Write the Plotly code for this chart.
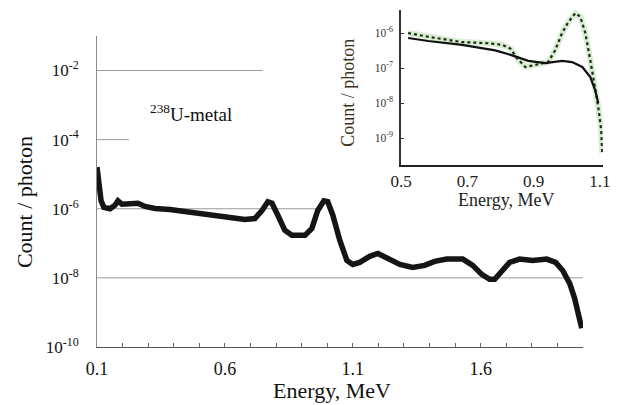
import plotly.graph_objects as go

# ---------------- data: main spectrum (238U-metal) ----------------
energy_main = [0.100, 0.108, 0.116, 0.127, 0.151, 0.170, 0.182, 0.198, 0.229, 0.260,
               0.288, 0.327, 0.385, 0.444, 0.502, 0.561, 0.620, 0.678, 0.717, 0.745,
               0.768, 0.784, 0.807, 0.834, 0.862, 0.913, 0.940, 0.963, 0.987, 1.002,
               1.022, 1.049, 1.077, 1.100, 1.127, 1.166, 1.198, 1.237, 1.284, 1.334,
               1.381, 1.420, 1.467, 1.530, 1.569, 1.604, 1.635, 1.655, 1.682, 1.713,
               1.752, 1.803, 1.858, 1.893, 1.920, 1.948, 1.967, 1.983, 1.995]
count_main = [1.6e-5, 4.8e-6, 1.7e-6, 1.1e-6, 1.0e-6, 1.26e-6, 1.7e-6, 1.35e-6, 1.35e-6, 1.45e-6,
              1.17e-6, 1.02e-6, 9.5e-7, 8.3e-7, 7.4e-7, 6.5e-7, 5.2e-7, 4.9e-7, 5.2e-7, 8.9e-7,
              1.6e-6, 1.45e-6, 6.5e-7, 2.4e-7, 1.7e-7, 1.7e-7, 2.7e-7, 8.9e-7, 1.7e-6, 1.6e-6,
              6.5e-7, 1.23e-7, 3.2e-8, 2.45e-8, 2.8e-8, 4.2e-8, 5.1e-8, 3.7e-8, 2.45e-8, 2.0e-8,
              2.3e-8, 3.0e-8, 3.5e-8, 3.5e-8, 2.3e-8, 1.26e-8, 9.1e-9, 9.1e-9, 1.45e-8, 2.8e-8,
              3.5e-8, 3.2e-8, 3.5e-8, 2.8e-8, 1.66e-8, 6.9e-9, 2.6e-9, 8.3e-10, 3.5e-10]

# ---------------- data: inset ----------------
energy_meas = [0.521, 0.582, 0.684, 0.763, 0.805, 0.830, 0.850, 0.875, 0.905, 0.944, 0.965,
               0.986, 1.004, 1.026, 1.041, 1.056, 1.071, 1.086, 1.095, 1.104, 1.107]
count_meas = [1.0e-6, 7.8e-7, 5.5e-7, 5.1e-7, 4.6e-7, 3.6e-7, 1.9e-7, 1.07e-7, 1.23e-7, 1.48e-7, 3.2e-7,
              1.0e-6, 2.0e-6, 3.7e-6, 2.9e-6, 1.0e-6, 1.7e-7, 2.9e-8, 7.8e-9, 1.7e-9, 3.7e-10]

energy_sim = [0.521, 0.582, 0.684, 0.784, 0.835, 0.884, 0.935, 0.986, 1.016, 1.047,
              1.071, 1.086, 1.095]
count_sim = [7.2e-7, 5.9e-7, 4.6e-7, 3.2e-7, 2.3e-7, 1.6e-7, 1.38e-7, 1.6e-7, 1.48e-7, 1.07e-7,
             5.5e-8, 2.3e-8, 1.0e-8]

# axis ticks / labels
main_x_ticks = [0.1, 0.6, 1.1, 1.6]
main_y_ticks = [1e-2, 1e-4, 1e-6, 1e-8, 1e-10]
main_y_text = ["10<sup>-2</sup>", "10<sup>-4</sup>", "10<sup>-6</sup>", "10<sup>-8</sup>", "10<sup>-10</sup>"]
inset_x_ticks = [0.5, 0.7, 0.9, 1.1]
inset_y_ticks = [1e-6, 1e-7, 1e-8, 1e-9]
inset_y_text = ["10<sup>-6</sup>", "10<sup>-7</sup>", "10<sup>-8</sup>", "10<sup>-9</sup>"]

# horizontal grid segments of the main panel (level, start energy, end energy)
grid_levels = [1e-2, 1e-4, 1e-6, 1e-8]
grid_starts = [0.1, 0.1, 0.1, 0.1]
grid_ends = [0.748, 0.225, 0.98, 2.0]

FONT = "Liberation Serif"

fig = go.Figure()

for lv, x0, x1 in zip(grid_levels, grid_starts, grid_ends):
    fig.add_trace(go.Scatter(x=[x0, x1], y=[lv, lv], mode="lines",
                             line=dict(color="#9a9a9a", width=1),
                             hoverinfo="skip", showlegend=False,
                             xaxis="x", yaxis="y"))

fig.add_trace(go.Scatter(x=energy_main, y=count_main, mode="lines",
                         line=dict(color="#151515", width=5.5),
                         showlegend=False, xaxis="x", yaxis="y"))

# inset traces
fig.add_trace(go.Scatter(x=energy_meas, y=count_meas, mode="lines",
                         line=dict(color="rgba(140,205,120,0.35)", width=6),
                         showlegend=False, hoverinfo="skip", xaxis="x2", yaxis="y2"))
fig.add_trace(go.Scatter(x=energy_meas, y=count_meas, mode="lines",
                         line=dict(color="#1f2a1d", width=2.2, dash="dot"),
                         showlegend=False, xaxis="x2", yaxis="y2"))
fig.add_trace(go.Scatter(x=energy_sim, y=count_sim, mode="lines",
                         line=dict(color="#111111", width=2.2),
                         showlegend=False, xaxis="x2", yaxis="y2"))

fig.update_layout(
    template="none",
    width=619, height=405,
    margin=dict(l=97, r=10, t=10, b=58, autoexpand=False),
    paper_bgcolor="white", plot_bgcolor="rgba(0,0,0,0)",
    font=dict(family=FONT, color="#111"),
    xaxis=dict(domain=[0, 0.9492], range=[0.1, 2.0], showgrid=False, zeroline=False,
               automargin=False,
               showline=True, linecolor="#555", linewidth=1.2,
               tickvals=main_x_ticks, ticktext=[str(v) for v in main_x_ticks],
               ticks="inside", ticklen=4, tickcolor="#666",
               minor=dict(dtick=0.1, tick0=0.1, ticks="inside", ticklen=4, tickcolor="#666",
                          showgrid=False),
               tickfont=dict(size=18, family=FONT, color="#111"), ticklabelstandoff=5),
    yaxis=dict(domain=[0, 0.923], type="log", range=[-10, -1], showgrid=False, zeroline=False,
               automargin=False,
               showline=True, linecolor="#8a8a8a", linewidth=1,
               tickvals=main_y_ticks, ticktext=main_y_text, ticks="",
               tickfont=dict(size=17, family=FONT, color="#111"), ticklabelstandoff=14),
    xaxis2=dict(domain=[0.594, 0.988], anchor="y2", range=[0.5, 1.109], showgrid=False,
                zeroline=False, showline=True, linecolor="#222", linewidth=2,
                automargin=False,
                tickvals=inset_x_ticks, ticktext=[str(v) for v in inset_x_ticks],
                ticks="", tickfont=dict(size=17, family=FONT, color="#222"),
                ticklabelstandoff=0),
    yaxis2=dict(domain=[0.540, 1.0], anchor="x2", type="log", range=[-9.771, -5.343],
                showgrid=False, zeroline=False, showline=True, linecolor="#333", linewidth=1.5,
                automargin=False,
                tickvals=inset_y_ticks, ticktext=inset_y_text,
                ticks="inside", ticklen=3, tickcolor="#333",
                tickfont=dict(size=11.5, family=FONT, color="#333"), ticklabelstandoff=4),
    annotations=[
        dict(text="Count / photon", xref="paper", yref="paper", x=-0.1426, y=0.430,
             textangle=-90, showarrow=False, font=dict(size=22, family=FONT, color="#111"),
             xanchor="center", yanchor="middle"),
        dict(text="Energy, MeV", xref="paper", yref="paper", x=0.459, y=-0.128,
             showarrow=False, font=dict(size=22, family=FONT, color="#111"),
             xanchor="center", yanchor="middle"),
        dict(text="<sup>238</sup>U-metal", xref="paper", yref="paper", x=0.184, y=0.694,
             showarrow=False, font=dict(size=19, family=FONT, color="#111"),
             xanchor="center", yanchor="middle"),
        dict(text="Count / photon", xref="paper", yref="paper", x=0.490, y=0.754,
             textangle=-90, showarrow=False, font=dict(size=18, family=FONT, color="#3b3020"),
             xanchor="center", yanchor="middle"),
        dict(text="Energy, MeV", xref="paper", yref="paper", x=0.799, y=0.436,
             showarrow=False, font=dict(size=18, family=FONT, color="#222"),
             xanchor="center", yanchor="middle", borderpad=0),
    ],
)

fig.write_html("out.html", config={"displayModeBar": False},
               post_script="document.body.style.margin='0';")
